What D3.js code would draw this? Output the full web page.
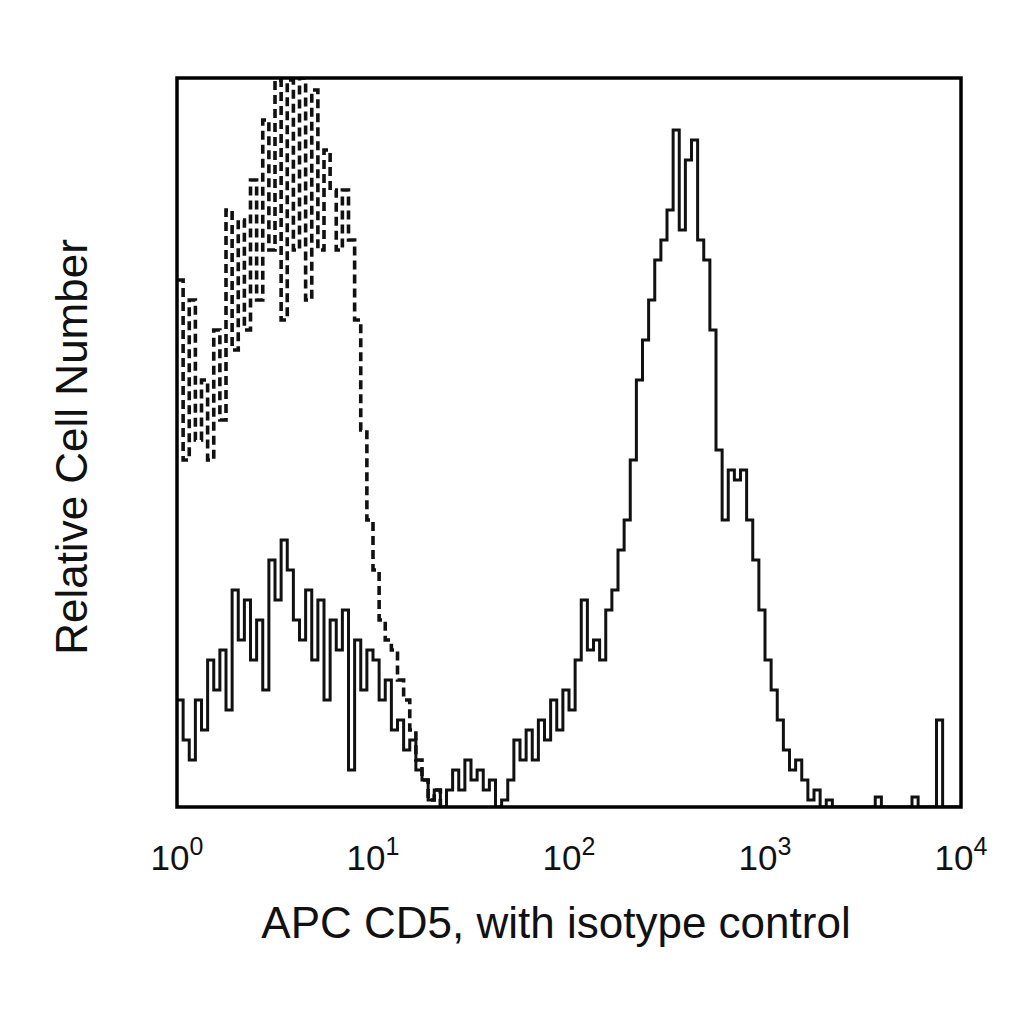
<!DOCTYPE html><html><head><meta charset="utf-8"><script src="https://d3js.org/d3.v7.min.js"></script>
<style>body{margin:0;background:#fff}</style></head><body><svg id="c" width="1024" height="1024"></svg>
<script>
const nBins = 128;           // bins over 4 decades
const isotype = [527,347,507,367,427,347,477,387,597,457,587,477,627,507,687,557,727,487,727,557,729,507,717,557,657,617,557,617,567,487,377,287,237,187,167,157,127,107,77,47,27,7,17,0];
const cd5 = [107,67,47,107,77,147,117,157,97,217,167,207,147,187,117,247,207,267,237,187,167,217,147,207,107,187,157,197,37,167,117,157,147,107,127,77,87,57,67,37,27,7,17,0,17,37,17,47,27,37,17,27,0,7,27,67,47,77,47,87,67,107,77,117,97,147,207,157,167,147,197,217,257,287,347,427,467,507,547,567,597,677,577,647,667,567,547,477,357,287,337,327,337,287,247,197,147,117,87,57,37,47,27,7,17,0,7,
 0,0,0,0,0,0,0,10,0,0,0,0,0,10,0,0,0,87,0,0,0];
const tickExps = [0,1,2,3,4];
const xTitle = "APC CD5, with isotype control";
const yTitle = "Relative Cell Number";

const svg = d3.select("#c");
const L=177,R=961,T=78,B=807;
const x = d3.scaleLog().domain([1,1e4]).range([L,R]);
const y = d3.scaleLinear().domain([0,729]).range([B,T]);
const edge = i => Math.pow(10, 4*i/nBins);
function pts(arr){const p=arr.map((v,i)=>[edge(i),v]);p.push([edge(arr.length),arr[arr.length-1]]);return p;}
const line = d3.line().x(d=>x(d[0])).y(d=>y(d[1])).curve(d3.curveStepAfter);
svg.append("defs").append("clipPath").attr("id","cp").append("rect").attr("x",L).attr("y",T).attr("width",R-L).attr("height",B-T);
const g = svg.append("g").attr("clip-path","url(#cp)");
g.append("path").attr("d",line(pts(isotype))).attr("fill","none").attr("stroke","#111").attr("stroke-width",3.6).attr("stroke-dasharray","9,5");
g.append("path").attr("d",line(pts(cd5))).attr("fill","none").attr("stroke","#111").attr("stroke-width",3);
svg.append("rect").attr("x",L).attr("y",T).attr("width",R-L).attr("height",B-T).attr("fill","none").attr("stroke","#000").attr("stroke-width",3.5);
const font="Liberation Sans, Arial, sans-serif";
tickExps.forEach(e=>{
  const t=svg.append("text").attr("x",x(Math.pow(10,e))).attr("y",870).attr("text-anchor","middle").attr("font-family",font).attr("font-size",35).attr("fill","#111");
  t.append("tspan").text("10");
  t.append("tspan").attr("dy",-15).attr("font-size",25).text(e);
});
svg.append("text").attr("x",556).attr("y",938).attr("text-anchor","middle").attr("font-family",font).attr("font-size",44).attr("fill","#111").text(xTitle);
svg.append("text").attr("transform","translate(87,447) rotate(-90)").attr("text-anchor","middle").attr("font-family",font).attr("font-size",44).attr("fill","#111").text(yTitle);
</script></body></html>
